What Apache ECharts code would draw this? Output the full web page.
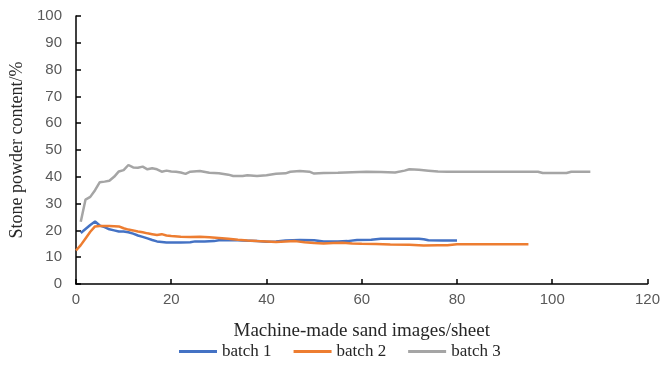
<!DOCTYPE html>
<html>
<head>
<meta charset="utf-8">
<script src="https://cdn.jsdelivr.net/npm/echarts@6/dist/echarts.min.js"></script>
<style>
  html, body { margin: 0; padding: 0; background: #fff; }
  #chart { width: 663px; height: 380px; }
</style>
</head>
<body>
<div id="chart"></div>
<script>
// series values: [image count, stone powder content %]
const batch1 = [[1,19],[2,20.5],[3,22],[4,23.3],[5,21.8],[6,21.2],[7,20.4],[8,20],[9,19.6],[10,19.6],[11,19.3],[12,18.8],[13,18.1],[14,17.6],[15,17],[16,16.4],[17,15.9],[18,15.7],[19,15.5],[20,15.5],[22,15.5],[24,15.6],[25,15.9],[27,15.9],[29,16],[30,16.3],[33,16.4],[35,16.2],[38,16],[40,15.8],[42,15.9],[44,16.2],[47,16.4],[50,16.3],[52,15.9],[55,15.9],[57,16],[59,16.4],[62,16.5],[64,16.9],[68,16.9],[72,16.9],[73,16.7],[74,16.3],[77,16.2],[80,16.2]];
const batch2 = [[0,12.5],[1,14.5],[2,17],[3,19.5],[4,21.5],[5,21.6],[7,21.6],[9,21.5],[10,20.8],[11,20.3],[12,20],[13,19.6],[14,19.3],[15,18.9],[16,18.6],[17,18.3],[18,18.6],[19,18.1],[20,17.9],[22,17.6],[24,17.5],[26,17.6],[28,17.4],[30,17.2],[32,16.9],[34,16.5],[36,16.2],[38,16],[40,15.9],[42,15.7],[44,15.9],[46,16],[48,15.6],[50,15.3],[52,15.1],[54,15.3],[56,15.4],[58,15.1],[60,15],[63,14.9],[66,14.7],[70,14.6],[73,14.4],[76,14.5],[78,14.5],[80,14.8],[85,14.8],[90,14.8],[95,14.8]];
const batch3 = [[1,23.2],[2,31.5],[3,32.5],[4,35],[5,38],[6,38.2],[7,38.5],[8,40],[9,42],[10,42.5],[11,44.4],[12,43.5],[13,43.4],[14,43.8],[15,42.8],[16,43.2],[17,42.8],[18,41.9],[19,42.3],[20,42],[21,41.9],[22,41.6],[23,41.1],[24,41.9],[26,42.2],[28,41.5],[30,41.3],[32,40.8],[33,40.3],[35,40.3],[36,40.6],[38,40.3],[40,40.6],[42,41.1],[44,41.3],[45,41.9],[47,42.2],[49,41.9],[50,41.2],[52,41.4],[55,41.5],[58,41.7],[61,41.9],[64,41.8],[67,41.6],[69,42.3],[70,42.8],[72,42.6],[74,42.3],[76,42],[78,41.9],[85,41.9],[90,41.9],[97,41.9],[98,41.4],[103,41.4],[104,41.9],[108,41.9]];

const seriesNames = ['batch 1', 'batch 2', 'batch 3'];
const seriesColors = ['#4472C4', '#ED7D31', '#A5A5A5'];
const seriesData = [batch1, batch2, batch3];

const xTicks = { min: 0, max: 120, interval: 20 };
const yTicks = { min: 0, max: 100, interval: 10 };

const serif = '"Liberation Serif", "DejaVu Serif", serif';
const sans = '"Liberation Sans", Arial, sans-serif';

const chart = echarts.init(document.getElementById('chart'));

const option = {
  backgroundColor: '#fff',
  animation: false,
  grid: { left: 76, top: 16, width: 575, height: 268 },
  legend: {
    data: seriesNames,
    bottom: 15,
    left: 174,
    icon: 'rect',
    itemWidth: 38,
    itemHeight: 3,
    itemGap: 22,
    textStyle: { fontFamily: serif, fontSize: 17, color: '#262626' },
  },
  xAxis: {
    type: 'value',
    min: xTicks.min,
    max: xTicks.max,
    interval: xTicks.interval,
    name: 'Machine-made sand images/sheet',
    nameLocation: 'middle',
    nameGap: 38,
    nameTextStyle: { fontFamily: serif, fontSize: 19, color: '#262626' },
    axisLine: { lineStyle: { color: '#000', width: 1.5 } },
    axisTick: { inside: true, length: 5, lineStyle: { color: '#000', width: 1.5 } },
    axisLabel: { fontFamily: sans, fontSize: 15, color: '#595959', margin: 8 },
    splitLine: { show: false },
  },
  yAxis: {
    type: 'value',
    min: yTicks.min,
    max: yTicks.max,
    interval: yTicks.interval,
    name: 'Stone powder content/%',
    nameLocation: 'middle',
    nameGap: 50,
    nameTextStyle: { fontFamily: serif, fontSize: 18, color: '#262626' },
    axisLine: { show: true, lineStyle: { color: '#000', width: 1.5 } },
    axisTick: { show: true, inside: true, length: 5, lineStyle: { color: '#000', width: 1.5 } },
    axisLabel: { fontFamily: sans, fontSize: 15, color: '#595959', margin: 14 },
    splitLine: { show: false },
  },
  series: seriesNames.map((name, i) => ({
    name,
    type: 'line',
    data: seriesData[i],
    showSymbol: false,
    symbol: 'none',
    lineStyle: { color: seriesColors[i], width: 2.5 },
    itemStyle: { color: seriesColors[i] },
  })),
};

chart.setOption(option);
</script>
</body>
</html>
